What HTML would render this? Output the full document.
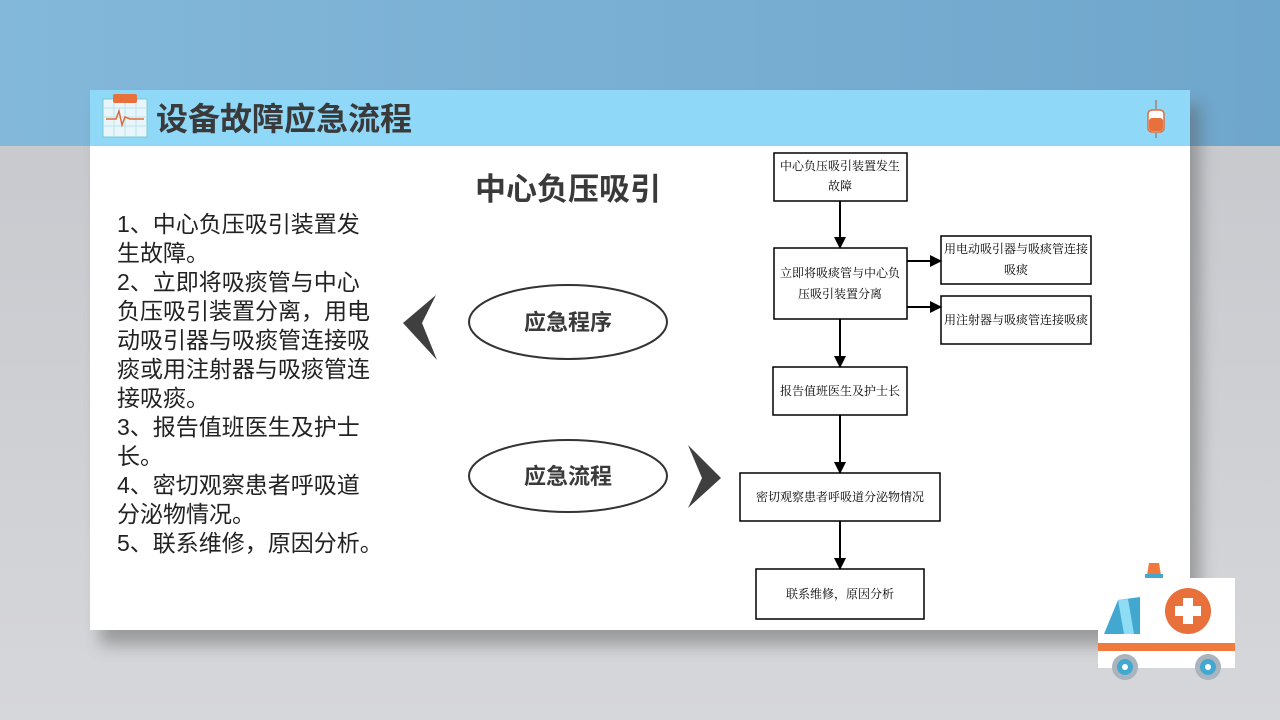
<!DOCTYPE html>
<html><head><meta charset="utf-8"><style>
html,body{margin:0;padding:0;width:1280px;height:720px;overflow:hidden;}
body{background:linear-gradient(#c4c6cb,#d6d7da);position:relative;font-family:"Liberation Sans","Noto Sans CJK SC",sans-serif;}
</style></head><body>
<svg width="1280" height="720" viewBox="0 0 1280 720" xmlns="http://www.w3.org/2000/svg" style="position:absolute;left:0;top:0">
<defs>
<linearGradient id="tb" x1="0" y1="0" x2="1" y2="0"><stop offset="0" stop-color="#83b8da"/><stop offset="1" stop-color="#6fa6cb"/></linearGradient>
<marker id="ar" markerWidth="12" markerHeight="12" refX="11" refY="6" orient="auto" markerUnits="userSpaceOnUse"><path d="M0,0 L12,6 L0,12z" fill="#000"/></marker>
<filter id="sh" x="-5%" y="-5%" width="115%" height="125%"><feGaussianBlur stdDeviation="8"/></filter>
</defs>
<rect x="0" y="0" width="1280" height="146" fill="url(#tb)"/>
<rect x="100" y="105" width="1100" height="540" fill="#555" opacity="0.45" filter="url(#sh)"/>
<rect x="90" y="90" width="1100" height="540" fill="#fff"/>
<rect x="90" y="90" width="1100" height="56" fill="#8fd8f8"/>
<rect x="103" y="99" width="44" height="38" fill="#e8f6fb" stroke="#7cc" stroke-width="1"/>
<g stroke="#bde3ee" stroke-width="1"><line x1="103" y1="108" x2="147" y2="108"/><line x1="103" y1="117" x2="147" y2="117"/><line x1="103" y1="126" x2="147" y2="126"/><line x1="114" y1="99" x2="114" y2="137"/><line x1="125" y1="99" x2="125" y2="137"/><line x1="136" y1="99" x2="136" y2="137"/></g>
<polyline points="106,119 116,119 119,111 122,125 125,117 130,119 144,119" fill="none" stroke="#e06b3a" stroke-width="1.5"/>
<rect x="113" y="94" width="24" height="9" rx="2" fill="#e8703a"/>
<text x="156" y="130" font-size="32" font-weight="bold" fill="#3a3a3a">设备故障应急流程</text>
<rect x="1148" y="110" width="16" height="22" rx="4" fill="#fff" stroke="#e06b3a" stroke-width="1.5"/>
<rect x="1149" y="118" width="14" height="13" rx="3" fill="#e8703a"/>
<line x1="1156" y1="100" x2="1156" y2="110" stroke="#999" stroke-width="2"/>
<line x1="1156" y1="132" x2="1156" y2="138" stroke="#999" stroke-width="2"/>
<text x="568" y="200" font-size="31" font-weight="bold" fill="#3a3a3a" text-anchor="middle">中心负压吸引</text>
<g font-size="23" fill="#222">
<text x="117" y="232">1、中心负压吸引装置发</text>
<text x="117" y="261">生故障。</text>
<text x="117" y="290">2、立即将吸痰管与中心</text>
<text x="117" y="319">负压吸引装置分离，用电</text>
<text x="117" y="348">动吸引器与吸痰管连接吸</text>
<text x="117" y="377">痰或用注射器与吸痰管连</text>
<text x="117" y="406">接吸痰。</text>
<text x="117" y="435">3、报告值班医生及护士</text>
<text x="117" y="464">长。</text>
<text x="117" y="493">4、密切观察患者呼吸道</text>
<text x="117" y="522">分泌物情况。</text>
<text x="117" y="551">5、联系维修，原因分析。</text>
</g>
<polygon points="403,323 436,295 422,323 437,360" fill="#3f3f3f"/>
<polygon points="688,445 721,478 688,508 702,478" fill="#3f3f3f"/>
<ellipse cx="568" cy="322" rx="99" ry="37" fill="#fff" stroke="#333" stroke-width="2"/>
<ellipse cx="568" cy="476" rx="99" ry="36" fill="#fff" stroke="#333" stroke-width="2"/>
<g font-size="22" font-weight="bold" fill="#3a3a3a" text-anchor="middle">
<text x="568" y="330">应急程序</text><text x="568" y="484">应急流程</text></g>
<g fill="#fff" stroke="#000" stroke-width="1.5">
<rect x="774" y="153" width="133" height="48"/>
<rect x="774" y="248" width="133" height="71"/>
<rect x="941" y="236" width="150" height="48"/>
<rect x="941" y="296" width="150" height="48"/>
<rect x="773" y="367" width="134" height="48"/>
<rect x="740" y="473" width="200" height="48"/>
<rect x="756" y="569" width="168" height="50"/>
</g>
<g stroke="#000" stroke-width="2" marker-end="url(#ar)">
<line x1="840" y1="201" x2="840" y2="248"/>
<line x1="907" y1="261" x2="941" y2="261"/>
<line x1="907" y1="307" x2="941" y2="307"/>
<line x1="840" y1="319" x2="840" y2="367"/>
<line x1="840" y1="415" x2="840" y2="473"/>
<line x1="840" y1="521" x2="840" y2="569"/>
</g>
<g font-size="12" fill="#000" text-anchor="middle" font-family="Liberation Serif,Noto Serif CJK SC,serif">
<text x="840" y="170">中心负压吸引装置发生</text><text x="840" y="190">故障</text>
<text x="840" y="277">立即将吸痰管与中心负</text><text x="840" y="298">压吸引装置分离</text>
<text x="1016" y="253">用电动吸引器与吸痰管连接</text><text x="1016" y="274">吸痰</text>
<text x="1016" y="324">用注射器与吸痰管连接吸痰</text>
<text x="840" y="395">报告值班医生及护士长</text>
<text x="840" y="501">密切观察患者呼吸道分泌物情况</text>
<text x="840" y="598">联系维修，原因分析</text>
</g>
<rect x="1098" y="578" width="137" height="90" fill="#fff"/>
<polygon points="1104,634 1118,600 1140,597 1140,634" fill="#43a8d0"/>
<polygon points="1118,600 1128,599 1134,634 1124,634" fill="#8fdcf5"/>
<rect x="1098" y="643" width="137" height="8" fill="#f07a3e"/>
<circle cx="1188" cy="611" r="23" fill="#e8703a"/>
<path d="M1183,598h10v8h8v10h-8v8h-10v-8h-8v-10h8z" fill="#fff"/>
<polygon points="1149,563 1159,563 1161,575 1147,575" fill="#f07a3e"/>
<rect x="1145" y="574" width="18" height="4" fill="#43a8d0"/>
<circle cx="1125" cy="667" r="13" fill="#a9b4bf"/><circle cx="1125" cy="667" r="8" fill="#43a8d0"/><circle cx="1125" cy="667" r="3" fill="#fff"/>
<circle cx="1208" cy="667" r="13" fill="#a9b4bf"/><circle cx="1208" cy="667" r="8" fill="#43a8d0"/><circle cx="1208" cy="667" r="3" fill="#fff"/>
</svg>
</body></html>
